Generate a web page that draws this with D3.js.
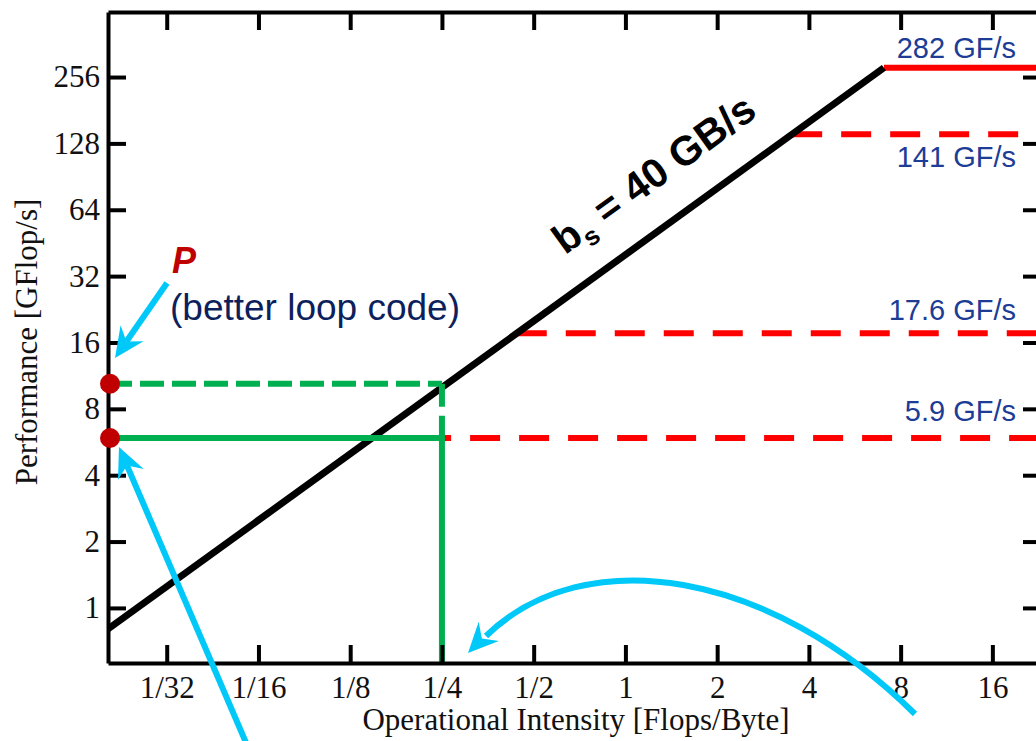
<!DOCTYPE html>
<html>
<head>
<meta charset="utf-8">
<script src="https://cdn.jsdelivr.net/npm/d3@7"></script>
<style>
  body { margin: 0; background: #fff; }
  svg { display: block; }
</style>
</head>
<body>
<svg id="chart"></svg>
<script>
// roofline data
var xTicks = [1/32, 1/16, 1/8, 1/4, 1/2, 1, 2, 4, 8, 16];
var xTickLabels = ["1/32", "1/16", "1/8", "1/4", "1/2", "1", "2", "4", "8", "16"];
var yTicks = [1, 2, 4, 8, 16, 32, 64, 128, 256];
var bandwidth = 40;                       // GB/s
var ceilings = [282, 141, 17.6, 5.9];     // GF/s
var ceilingLabels = ["282 GF/s", "141 GF/s", "17.6 GF/s", "5.9 GF/s"];
var ceilingDashed = [false, true, true, true];
var measured = [10.4, 5.9];               // dashed (better loop code), solid
var kernelIntensity = 1/4;

var width = 1036, height = 741;
var mLeft = 108, mTop = 12, mBottom = 663, mRight = 1041;

var svg = d3.select("#chart").attr("width", width).attr("height", height);

var x = d3.scaleLog().base(2)
  .domain([Math.pow(2, -5.64), Math.pow(2, 4.53)])
  .range([mLeft, mRight]);
var y = d3.scaleLog().base(2)
  .domain([Math.pow(2, -0.83), Math.pow(2, 8.98)])
  .range([mBottom, mTop]);

svg.append("defs").append("clipPath").attr("id", "plot")
  .append("rect").attr("x", mLeft).attr("y", mTop)
  .attr("width", mRight - mLeft).attr("height", mBottom - mTop);

var plot = svg.append("g").attr("clip-path", "url(#plot)");

// ceilings (start where they meet the bandwidth line)
var labelDy = [-10, 33, -13, -17];
ceilings.forEach((c, i) => {
  plot.append("line")
    .attr("x1", x(c / bandwidth)).attr("x2", mRight)
    .attr("y1", y(c)).attr("y2", y(c))
    .attr("stroke", "#ff0000")
    .attr("stroke-width", 6)
    .attr("stroke-dasharray", ceilingDashed[i] ? "30,19" : null);
  svg.append("text")
    .attr("x", 1016).attr("y", y(c) + labelDy[i])
    .attr("text-anchor", "end")
    .attr("font-family", "Liberation Sans, Arial, sans-serif")
    .attr("font-size", 29)
    .attr("fill", "#1c3c96")
    .text(ceilingLabels[i]);
});

// bandwidth roof
var knee = ceilings[0] / bandwidth;
var roof = [x.domain()[0], knee];
plot.append("path")
  .datum(roof)
  .attr("d", d3.line().x(d => x(d)).y(d => y(d * bandwidth)))
  .attr("fill", "none")
  .attr("stroke", "#000")
  .attr("stroke-width", 7);

// measured performance lines
var green = "#00b050";
plot.append("line")
  .attr("x1", mLeft).attr("x2", x(kernelIntensity))
  .attr("y1", y(measured[0])).attr("y2", y(measured[0]))
  .attr("stroke", green).attr("stroke-width", 6).attr("stroke-dasharray", "24,8");
plot.append("line")
  .attr("x1", x(kernelIntensity)).attr("x2", x(kernelIntensity))
  .attr("y1", y(measured[0])).attr("y2", y(measured[1]))
  .attr("stroke", green).attr("stroke-width", 6).attr("stroke-dasharray", "23,9");
plot.append("line")
  .attr("x1", mLeft).attr("x2", x(kernelIntensity) + 3)
  .attr("y1", y(measured[1])).attr("y2", y(measured[1]))
  .attr("stroke", green).attr("stroke-width", 6);
plot.append("line")
  .attr("x1", x(kernelIntensity)).attr("x2", x(kernelIntensity))
  .attr("y1", y(measured[1])).attr("y2", mBottom)
  .attr("stroke", green).attr("stroke-width", 6);

// axes (ticks point inwards)
function styleAxis(g) {
  g.select(".domain").attr("stroke-width", 4);
  g.selectAll(".tick line").attr("stroke-width", 4);
  g.selectAll("text")
    .attr("font-family", "Liberation Serif, Times New Roman, serif")
    .attr("font-size", 31)
    .attr("fill", "#111");
}

svg.append("g")
  .attr("transform", `translate(0,${mBottom})`)
  .call(d3.axisBottom(x).tickValues(xTicks).tickSize(-18).tickSizeOuter(0).tickPadding(13)
    .tickFormat((d, i) => xTickLabels[i]))
  .call(styleAxis);
svg.append("g")
  .attr("transform", `translate(0,${mTop})`)
  .call(d3.axisTop(x).tickValues(xTicks).tickSize(-18).tickSizeOuter(0).tickFormat(""))
  .call(styleAxis);
svg.append("g")
  .attr("transform", `translate(${mLeft},0)`)
  .call(d3.axisLeft(y).tickValues(yTicks).tickSize(-18).tickSizeOuter(0).tickPadding(8)
    .tickFormat(d3.format("d")))
  .call(styleAxis);
svg.append("g")
  .attr("transform", `translate(${mRight},0)`)
  .call(d3.axisRight(y).tickValues(yTicks).tickSize(-18).tickSizeOuter(0).tickFormat(""))
  .call(styleAxis);

// axis titles
svg.append("text")
  .attr("x", 576).attr("y", 730)
  .attr("text-anchor", "middle")
  .attr("font-family", "Liberation Serif, Times New Roman, serif")
  .attr("font-size", 31)
  .attr("fill", "#111")
  .text("Operational Intensity [Flops/Byte]");
svg.append("text")
  .attr("transform", "translate(37,342) rotate(-90)")
  .attr("text-anchor", "middle")
  .attr("font-family", "Liberation Serif, Times New Roman, serif")
  .attr("font-size", 31)
  .attr("fill", "#111")
  .text("Performance [GFlop/s]");

// bandwidth label along the roof
var a0 = 0.74, a1 = 1.48;
var angle = Math.atan2(y(a1 * bandwidth) - y(a0 * bandwidth), x(a1) - x(a0)) * 180 / Math.PI;
var bs = svg.append("text")
  .attr("transform", `translate(${x(a0)},${y(a0 * bandwidth)}) rotate(${angle})`)
  .attr("y", -35)
  .attr("font-family", "Liberation Sans, Arial, sans-serif")
  .attr("font-weight", "bold")
  .attr("font-size", 41)
  .attr("fill", "#000");
bs.append("tspan").text("b");
bs.append("tspan").attr("font-size", 26).attr("dy", 9).text("s");
bs.append("tspan").attr("dy", -9).text(" = 40 GB/s");

// annotation texts
svg.append("text")
  .attr("x", 172).attr("y", 273)
  .attr("font-family", "Liberation Sans, Arial, sans-serif")
  .attr("font-weight", "bold").attr("font-style", "italic")
  .attr("font-size", 36)
  .attr("fill", "#c00000")
  .text("P");
svg.append("text")
  .attr("x", 170).attr("y", 320)
  .attr("font-family", "Liberation Sans, Arial, sans-serif")
  .attr("font-size", 37)
  .attr("fill", "#0d1f5c")
  .text("(better loop code)");

// cyan arrows
var cyan = "#00c8f8";
function arrowHead(tip, from) {
  var dx = tip[0] - from[0], dy = tip[1] - from[1];
  var len = Math.sqrt(dx * dx + dy * dy);
  var ux = dx / len, uy = dy / len, px = -uy, py = ux;
  var L = 30, W = 14, N = 20;
  var p = [
    tip,
    [tip[0] - ux * L + px * W, tip[1] - uy * L + py * W],
    [tip[0] - ux * N, tip[1] - uy * N],
    [tip[0] - ux * L - px * W, tip[1] - uy * L - py * W]
  ];
  svg.append("path").attr("d", "M" + p.join("L") + "Z").attr("fill", cyan);
}
function straightArrow(from, tip) {
  var dx = tip[0] - from[0], dy = tip[1] - from[1];
  var len = Math.sqrt(dx * dx + dy * dy);
  svg.append("line")
    .attr("x1", from[0]).attr("y1", from[1])
    .attr("x2", tip[0] - dx / len * 20).attr("y2", tip[1] - dy / len * 20)
    .attr("stroke", cyan).attr("stroke-width", 6);
  arrowHead(tip, from);
}
straightArrow([167, 283], [115, 358]);
straightArrow([247, 745], [119, 447]);

var curveTip = [468, 653];
svg.append("path")
  .attr("d", "M915,714 C770,570 585,540 486,636")
  .attr("fill", "none").attr("stroke", cyan).attr("stroke-width", 6);
arrowHead(curveTip, [492, 628]);

// measured points
svg.selectAll("circle.pt")
  .data(measured)
  .enter()
  .append("circle")
  .attr("class", "pt")
  .attr("cx", mLeft + 2)
  .attr("cy", d => y(d))
  .attr("r", 10)
  .attr("fill", "#c00000");
</script>
</body>
</html>
